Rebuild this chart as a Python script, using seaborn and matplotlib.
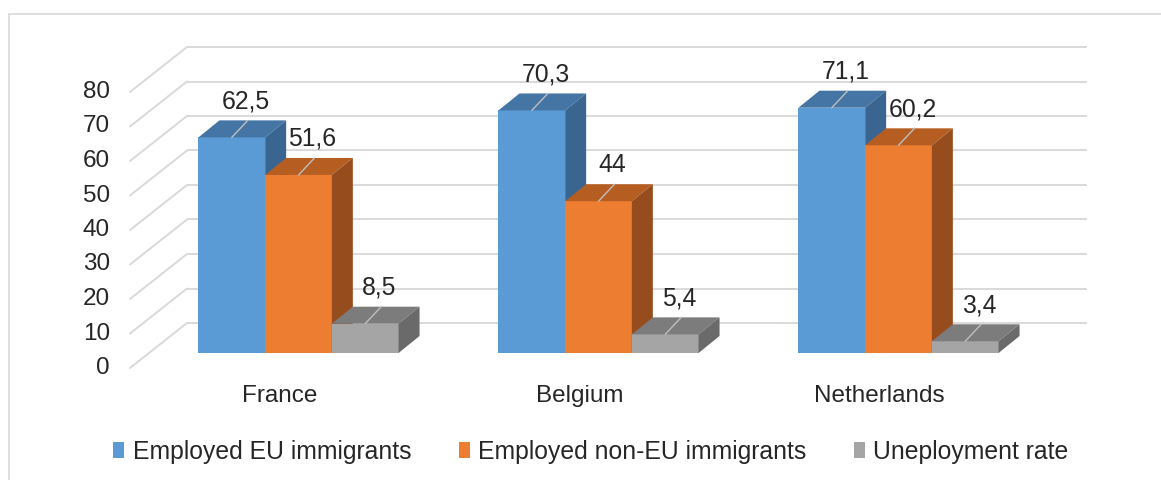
import pandas as pd
import numpy as np
import seaborn as sns
import matplotlib.pyplot as plt
from matplotlib.patches import Polygon
from matplotlib.lines import Line2D

# =========================
# DATA
# =========================
countries = ["France", "Belgium", "Netherlands"]
series = ["Employed EU immigrants", "Employed non-EU immigrants", "Uneployment rate"]
eu_employed = [62.5, 70.3, 71.1]
non_eu_employed = [51.6, 44, 60.2]
unemployment = [8.5, 5.4, 3.4]
y_ticks = [0, 10, 20, 30, 40, 50, 60, 70, 80]

df = pd.DataFrame({
    "Country": countries * 3,
    "Series": [series[0]] * 3 + [series[1]] * 3 + [series[2]] * 3,
    "Value": eu_employed + non_eu_employed + unemployment,
})

# =========================
# VISUAL SETTINGS
# =========================
front_colors = ["#5B9BD5", "#ED7D31", "#A5A5A5"]
top_colors = ["#4475A4", "#B65E22", "#7C7C7C"]
side_colors = ["#3A6590", "#974C1D", "#6A6A6A"]
text_color = "#262626"
grid_color = "#D9D9D9"

sns.set_style("white")
plt.rcParams["font.family"] = ["Liberation Sans", "DejaVu Sans"]

W, H = 1161, 480
fig = plt.figure(figsize=(W / 100, H / 100), dpi=100)
# axes box in pixels: left 120, right 1100, top 30, bottom 380
ax = fig.add_axes([120 / W, 1 - 380 / H, 980 / W, 350 / H])

# 3D offsets (data units): 300 px per category, 3.45 px per unit
px_x, px_y = 300.0, 3.45
depth = (21 / px_x, 17 / px_y)        # bar depth
front = (-19 / px_x, -15 / px_y)      # front floor edge
back = (38 / px_x, 30 / px_y)         # back wall

# =========================
# PLOT
# =========================
sns.barplot(
    data=df, x="Country", y="Value", hue="Series",
    palette=front_colors, width=0.667, saturation=1,
    linewidth=0, ax=ax,
)
handles, labels = ax.get_legend_handles_labels()
ax.get_legend().remove()

ax.set_xlim((120 - 298.5) / px_x, (1100 - 298.5) / px_x)
ax.set_ylim((353 - 380) / px_y, (353 - 30) / px_y)
ax.set_axis_off()

# gridlines on back wall + diagonals on the left
x_front_left = (130 - 298.5) / px_x
x_right = (1087 - 298.5) / px_x
for t in y_ticks:
    yb = t + back[1]
    xb = x_front_left + (back[0] - front[0])
    ax.plot([xb, x_right], [yb, yb], color=grid_color, lw=1.4, zorder=1,
            solid_capstyle="butt")
    ax.plot([x_front_left, xb], [t + front[1], yb], color=grid_color, lw=1.4,
            zorder=1)
    ax.text(x_front_left - 20 / px_x, t + front[1], str(t), ha="right",
            va="center", fontsize=17.5, color=text_color)

# category labels at front edge
for i, c in enumerate(countries):
    ax.text(i + front[0], -43 / px_y, c, ha="center", va="center",
            fontsize=17.5, color=text_color, clip_on=False)

# 3D faces and data labels
for h, cont in enumerate(ax.containers):
    for c, bar in enumerate(cont):
        x0, w, top = bar.get_x(), bar.get_width(), bar.get_height()
        z = 3 + (c * 3 + h) * 0.01
        bar.set_zorder(z)
        dx, dy = depth
        ax.add_patch(Polygon(
            [(x0, top), (x0 + w, top), (x0 + w + dx, top + dy), (x0 + dx, top + dy)],
            closed=True, facecolor=top_colors[h], edgecolor="none", zorder=z))
        ax.add_patch(Polygon(
            [(x0 + w, 0), (x0 + w + dx, dy), (x0 + w + dx, top + dy), (x0 + w, top)],
            closed=True, facecolor=side_colors[h], edgecolor="none", zorder=z))
        xc = x0 + w / 2
        ax.plot([xc, xc + 16 / px_x], [top, top + 17 / px_y], color="#BFBFBF",
                lw=1, zorder=z + 0.005)
        ax.text(xc + 14 / px_x, top + 24 / px_y, f"{top:g}".replace(".", ","),
                ha="center", va="bottom", fontsize=17.8, color=text_color,
                zorder=10)

fig.legend(
    handles, labels, loc="center", bbox_to_anchor=(591 / W, 1 - 452 / H),
    ncol=3, frameon=False, fontsize=17.8, handlelength=0.45,
    handleheight=0.6, handletextpad=0.35, columnspacing=1.9,
    labelcolor=text_color,
)

# chart frame
fig.add_artist(Line2D([8.5 / W, 1], [1 - 13.5 / H] * 2, color=grid_color, lw=1.2))
fig.add_artist(Line2D([8.5 / W] * 2, [0, 1 - 13.5 / H], color=grid_color, lw=1.2))

fig.savefig("out.png", dpi=100)
